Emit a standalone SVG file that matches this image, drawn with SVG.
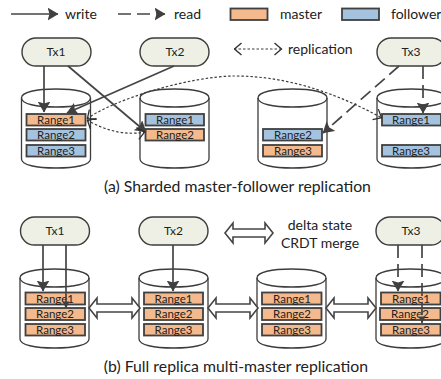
<svg xmlns="http://www.w3.org/2000/svg" width="441" height="379" viewBox="0 0 441 379">
<style>
text{font-family:"Lato","Carlito","Open Sans",sans-serif;fill:#222}
.l{font-size:14px}
.r{font-size:11.500px;text-anchor:middle}
.t{font-size:12px;text-anchor:middle}
.c{font-size:15.800px;text-anchor:middle}
.tx{fill:#eef0e5;stroke:#3c3c3c;stroke-width:1.400}
.cy{fill:#fff;stroke:#3c3c3c;stroke-width:1.300}
.m{fill:#f4b98c;stroke:#404040;stroke-width:1.800}
.f{fill:#a5c3de;stroke:#404040;stroke-width:1.800}
.w{fill:none;stroke:#454545;stroke-width:1.700;marker-end:url(#a)}
.s{marker-end:url(#a2)}
.d{stroke-dasharray:13 6}
.rep{fill:none;stroke:#3c3c3c;stroke-width:1.200;stroke-dasharray:2.500 2;marker-start:url(#o);marker-end:url(#o)}
.da{fill:#fff;stroke:#454545;stroke-width:1.600}
</style>
<defs>
<marker id="a" viewBox="0 0 11 13" refX="10.500" refY="6.500" markerWidth="11" markerHeight="13" markerUnits="userSpaceOnUse" orient="auto"><path d="M0 0L11 6.500L0 13L2 6.500z" fill="#404040"/></marker>
<marker id="a2" viewBox="0 0 8 8" refX="7.500" refY="4" markerWidth="7" markerHeight="7" markerUnits="userSpaceOnUse" orient="auto"><path d="M0 0L8 4L0 8z" fill="#404040"/></marker>
<marker id="o" viewBox="0 0 10 14" refX="9.500" refY="7" markerWidth="10" markerHeight="14" markerUnits="userSpaceOnUse" orient="auto-start-reverse"><path d="M2 1L9 7L2 13" fill="none" stroke="#2f2f2f" stroke-width="1.300"/></marker>
<path id="cyl" class="cy" d="M0 9C0 3 15 0 34.500 0S69 3 69 9V70C69 76 54 79 34.500 79S0 76 0 70Z"/>
<path id="rim" d="M0 9C0 15 15 18 34.500 18S69 15 69 9" fill="none" stroke="#3c3c3c" stroke-width="1.300"/>
<rect id="pill" class="tx" width="69" height="28" rx="14"/>
</defs>

<g id="legend">
<text class="l" x="65" y="19">write</text>
<text class="l" x="174" y="19">read</text>
<rect class="m" x="230.500" y="8.500" width="37" height="11.500"/>
<text class="l" x="280" y="19">master</text>
<rect class="f" x="342" y="8.500" width="37" height="11.500"/>
<text class="l" x="391" y="19">follower</text>
<text class="l" x="288" y="54">replication</text>
<text class="l" text-anchor="middle" x="320" y="230">delta state</text>
<text class="l" text-anchor="middle" x="320" y="248">CRDT merge</text>
</g>

<g id="a-cyl1"><use href="#cyl" x="21.500" y="89"/><use href="#rim" x="21.500" y="89"/>
<rect class="m" x="26.500" y="114" width="59" height="11.500"/><text class="r" x="56" y="124">Range1</text>
<rect class="f" x="26.500" y="129" width="59" height="11.500"/><text class="r" x="56" y="139">Range2</text>
<rect class="f" x="26.500" y="145" width="59" height="11.500"/><text class="r" x="56" y="155">Range3</text></g>
<g id="a-cyl2"><use href="#cyl" x="140" y="89"/><use href="#rim" x="140" y="89"/>
<rect class="f" x="145.500" y="114" width="58.500" height="11.500"/><text class="r" x="175" y="124">Range1</text>
<rect class="m" x="145.500" y="129" width="58.500" height="11.500"/><text class="r" x="175" y="139">Range2</text></g>
<g id="a-cyl3"><use href="#cyl" x="258" y="89"/><use href="#rim" x="258" y="89"/>
<rect class="f" x="263" y="129" width="59" height="11.500"/><text class="r" x="293" y="139">Range2</text>
<rect class="m" x="263" y="145" width="59" height="11.500"/><text class="r" x="293" y="155">Range3</text></g>
<g id="a-cyl4"><use href="#cyl" x="377" y="89"/><use href="#rim" x="377" y="89"/>
<rect class="f" x="382" y="114" width="59" height="11.500"/><text class="r" x="411" y="124">Range1</text>
<rect class="f" x="382" y="145" width="59" height="11.500"/><text class="r" x="411" y="155">Range3</text></g>

<g id="a-tx1"><use href="#pill" x="22" y="38"/><text class="t" x="56" y="56">Tx1</text></g>
<g id="a-tx2"><use href="#pill" x="140" y="38"/><text class="t" x="175" y="56">Tx2</text></g>
<g id="a-tx3"><use href="#pill" x="377" y="38"/><text class="t" x="411" y="56">Tx3</text></g>

<g id="b-cyl1"><use href="#cyl" x="20" y="269"/><use href="#rim" x="20" y="269"/>
<rect class="m" x="25.500" y="292.500" width="59.500" height="12"/><text class="r" x="55" y="303">Range1</text>
<rect class="m" x="25.500" y="308" width="59.500" height="12"/><text class="r" x="55" y="318">Range2</text>
<rect class="m" x="25.500" y="324" width="59.500" height="11.500"/><text class="r" x="55" y="334">Range3</text></g>
<g id="b-cyl2"><use href="#cyl" x="139" y="269"/><use href="#rim" x="139" y="269"/>
<rect class="m" x="144" y="292.500" width="59" height="12"/><text class="r" x="173.500" y="303">Range1</text>
<rect class="m" x="144" y="308" width="59" height="12"/><text class="r" x="173.500" y="318">Range2</text>
<rect class="m" x="144" y="324" width="59" height="11.500"/><text class="r" x="173.500" y="334">Range3</text></g>
<g id="b-cyl3"><use href="#cyl" x="257" y="269"/><use href="#rim" x="257" y="269"/>
<rect class="m" x="262" y="292.500" width="59.500" height="12"/><text class="r" x="292" y="303">Range1</text>
<rect class="m" x="262" y="308" width="59.500" height="12"/><text class="r" x="292" y="318">Range2</text>
<rect class="m" x="262" y="324" width="59.500" height="11.500"/><text class="r" x="292" y="334">Range3</text></g>
<g id="b-cyl4"><use href="#cyl" x="376" y="269"/><use href="#rim" x="376" y="269"/>
<rect class="m" x="381" y="292.500" width="59.500" height="12"/><text class="r" x="411" y="303">Range1</text>
<rect class="m" x="380" y="308" width="60.500" height="12"/><text class="r" x="410" y="318">Range2</text>
<rect class="m" x="381" y="324" width="59.500" height="11.500"/><text class="r" x="411" y="334">Range3</text></g>

<g id="b-tx1"><use href="#pill" x="20.500" y="217"/><text class="t" x="55" y="235">Tx1</text></g>
<g id="b-tx2"><use href="#pill" x="139" y="217"/><text class="t" x="173.500" y="235">Tx2</text></g>
<g id="b-tx3"><use href="#pill" x="376" y="217"/><text class="t" x="411" y="235">Tx3</text></g>

<g id="connectors">
<path class="w" d="M11 14H58"/>
<path class="w d" d="M118 14H165"/>
<path class="rep" d="M234 49H282"/>
<path class="w" d="M44 66V112"/>
<path class="w" d="M68 66L146 132"/>
<path class="w" d="M174 66L67 113"/>
<path class="w d" d="M399 66L323 133"/>
<path class="w d" d="M423 66V113"/>
<path class="rep" d="M87 119C112 100 190 76 235 76C290 76 340 95 382 118"/>
<path class="rep" d="M87 120C104 130 125 136 145 132"/>
<path class="w" d="M43 245V291"/>
<path class="w s" d="M66 245V308"/>
<path class="w" d="M173 245V291"/>
<path class="w d" d="M398 245V291"/>
<path class="w d s" d="M422 245V323"/>
<path id="m1" class="da" d="M89 308L97 298V304H132V298L140 308L132 318V312H97V318Z"/>
<path id="m2" class="da" d="M208 308L216 298V304H250V298L258 308L250 318V312H216V318Z"/>
<path id="m3" class="da" d="M326 308L334 298V304H368V298L376 308L368 318V312H334V318Z"/>
<path id="m4" class="da" d="M225 233L233 223V229H265V223L273 233L265 243V237H233V243Z"/>
</g>

<text class="c" x="237.500" y="192">(a) Sharded master-follower replication</text>
<text class="c" x="236" y="372">(b) Full replica multi-master replication</text>
</svg>
